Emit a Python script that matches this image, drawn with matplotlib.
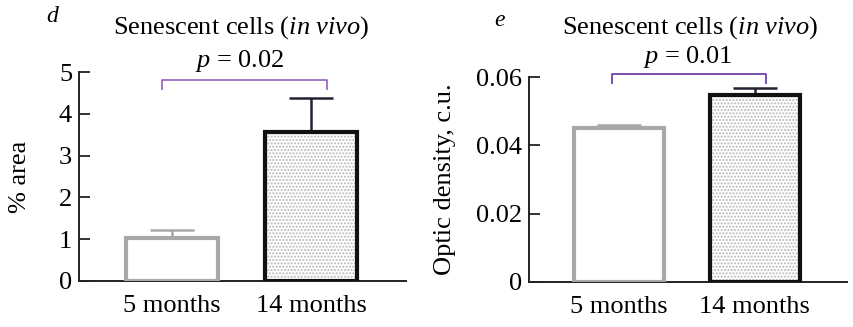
import matplotlib
matplotlib.use('Agg')
import matplotlib.pyplot as plt

plt.rcParams['font.family'] = ['Liberation Serif', 'DejaVu Serif']
plt.rcParams['mathtext.fontset'] = 'custom'
plt.rcParams['mathtext.rm'] = 'Liberation Serif'
plt.rcParams['mathtext.it'] = 'Liberation Serif:italic'
plt.rcParams['hatch.linewidth'] = 1.0

# data
groups = ['5 months', '14 months']
area_mean = [1.02, 3.57]
area_err = [0.21, 0.82]
area_p = r'$p$ = 0.02'
od_mean = [0.0451, 0.0547]
od_err = [0.0010, 0.0021]
od_p = r'$p$ = 0.01'
title = r'Senescent cells ($\mathit{in\ vivo}$)'

edge_cols = ['#a8a8a8', '#111111']
err_cols = ['#a8a8a8', '#222233']

fig = plt.figure(figsize=(8.54, 3.27), dpi=100)


def panel(rect, means, errs, ylim, yticks, yticklabels, ylabel, label_x, bracket):
	ax = fig.add_axes(rect)
	for i, (m, e) in enumerate(zip(means, errs)):
		if i == 1:
			ax.bar(i, m, width=0.66, color='white', edgecolor='#b8b8b8', hatch='.....', linewidth=0, zorder=2)
		ax.bar(i, m, width=0.66, fill=(i == 0), color='white', edgecolor=edge_cols[i],
			linewidth=3, zorder=3)
		ax.errorbar(i, m, yerr=[[0], [e]], color=err_cols[i], capsize=16, capthick=1.8,
			elinewidth=1.8, zorder=1)
	ax.set_xlim(-0.665, 1.68)
	ax.set_ylim(*ylim)
	ax.set_xticks(range(len(groups)))
	ax.set_xticklabels(groups, fontsize=19)
	ax.set_yticks(yticks)
	ax.set_yticklabels(yticklabels, fontsize=19)
	ax.tick_params(axis='x', direction='in', length=7, width=1.3, color='#222222', pad=10)
	ax.tick_params(axis='y', direction='in', length=8, width=1.3, color='#222222', pad=5)
	for s in ['top', 'right']:
		ax.spines[s].set_visible(False)
	for s in ['left', 'bottom']:
		ax.spines[s].set_linewidth(1.4)
		ax.spines[s].set_color('#222222')
	ax.set_ylabel(ylabel, fontsize=19, va='center')
	ax.yaxis.set_label_coords(label_x, 0.5)
	# significance bracket
	x_l, x_r, y_top, y_low, col = bracket
	ax.plot([x_l, x_l, x_r, x_r], [y_low, y_top, y_top, y_low],
		color=col, linewidth=1.3, clip_on=False)
	return ax


ax1 = panel([0.0925, 0.1407, 0.383, 0.639], area_mean, area_err, (0, 5),
	[0, 1, 2, 3, 4, 5], ['0', '1', '2', '3', '4', '5'], '% area', -0.18,
	(-0.072, 1.115, 4.82, 4.6, '#9b6cc4'))
ax2 = panel([0.6194, 0.1385, 0.3724, 0.625], od_mean, od_err, (0, 0.06),
	[0, 0.02, 0.04, 0.06], ['0', '0.02', '0.04', '0.06'], 'Optic density, c.u.', -0.264,
	(-0.05, 1.08, 0.061, 0.0582, '#7040a8'))

# titles and p-values, in figure pixels
fig.text(241 / 854, 1 - 28 / 327, title, fontsize=19, ha='center', va='center')
fig.text(690 / 854, 1 - 28 / 327, title, fontsize=19, ha='center', va='center')
fig.text(240 / 854, 1 - 61 / 327, area_p, fontsize=19, ha='center', va='center')
fig.text(688 / 854, 1 - 57 / 327, od_p, fontsize=19, ha='center', va='center')
fig.text(52 / 854, 1 - 16 / 327, 'd', fontsize=17, style='italic', ha='center', va='center')
fig.text(500 / 854, 1 - 20 / 327, 'e', fontsize=17, style='italic', ha='center', va='center')

fig.savefig('out.png', dpi=100)
